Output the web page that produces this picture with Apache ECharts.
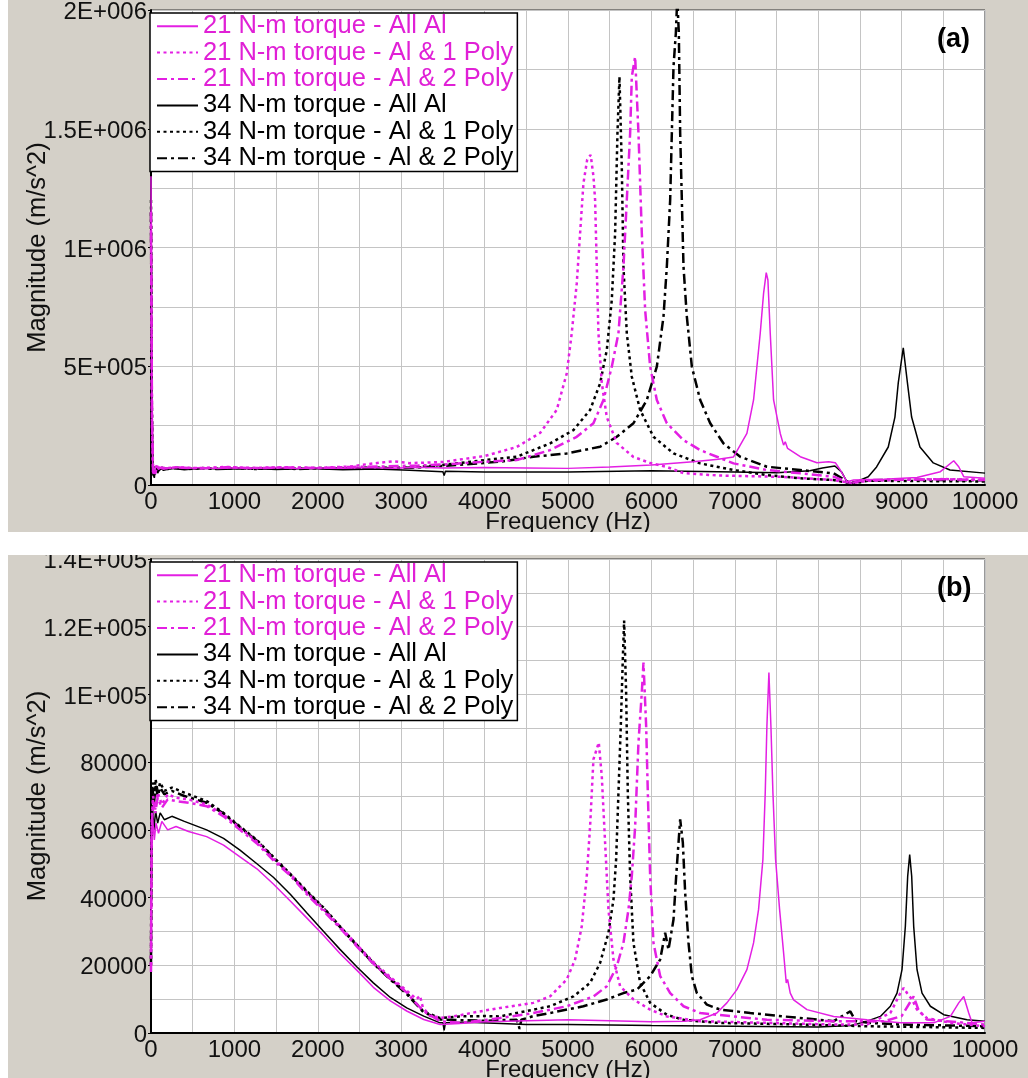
<!DOCTYPE html>
<html>
<head>
<meta charset="utf-8">
<script src="https://cdn.jsdelivr.net/npm/echarts@6/dist/echarts.min.js"></script>
<style>
html,body{margin:0;padding:0;background:#fff;}
#c{width:1028px;height:1078px;}
</style>
</head>
<body>
<div id="c"></div>
<script>
// ---------- tick labels ----------
const xTickLabels = ['0','1000','2000','3000','4000','5000','6000','7000','8000','9000','10000'];
const yTickLabelsA = ['0','5E+005','1E+006','1.5E+006','2E+006'];
const yTickLabelsB = ['0','20000','40000','60000','80000','1E+005','1.2E+005','1.4E+005'];
const seriesNames = ['21 N-m torque - All Al','21 N-m torque - Al & 1 Poly','21 N-m torque - Al & 2 Poly',
                     '34 N-m torque - All Al','34 N-m torque - Al & 1 Poly','34 N-m torque - Al & 2 Poly'];

// ---------- panel (a) data : [frequency Hz, magnitude m/s^2] ----------
const a21AllAl = [[0,1300000],[10,400000],[22,60000],[40,48000],[60,82000],[90,66000],[130,76000],[200,70000],[300,75000],[450,70000],[600,74000],[800,69000],[1000,73000],[1250,70000],[1500,74000],[1750,69000],[2000,73000],[2300,70000],[2600,74000],[2900,71000],[3200,75000],[3500,72000],[4000,74000],[4500,72000],[5000,70000],[5500,76000],[6000,84000],[6500,98000],[6800,108000],[6985,118000],[7145,217000],[7225,358000],[7305,639000],[7345,807000],[7377,894000],[7397,863000],[7425,639000],[7465,358000],[7545,217000],[7585,168000],[7605,182000],[7633,154000],[7785,119000],[7985,94000],[8125,98000],[8205,94000],[8265,63000],[8345,14000],[8425,21000],[8785,24000],[9185,32000],[9465,56000],[9625,102000],[9685,77000],[9745,35000],[10000,28000]];
const a21Poly1 = [[0,1100000],[12,250000],[25,55000],[45,40000],[70,78000],[150,70000],[300,75000],[600,71000],[900,76000],[1200,72000],[1600,75000],[2000,72000],[2400,78000],[2600,88000],[2900,100000],[3100,92000],[3500,97000],[4000,122000],[4385,160000],[4665,219000],[4865,316000],[4985,470000],[5045,640000],[5105,850000],[5145,1060000],[5185,1270000],[5230,1370000],[5272,1390000],[5305,1300000],[5325,1200000],[5345,918000],[5365,640000],[5405,430000],[5465,286000],[5585,177000],[5785,118000],[5985,93000],[6185,76000],[6385,50000],[6800,40000],[7585,34000],[8185,21000],[8400,8000],[8600,18000],[9000,22000],[9500,25000],[10000,22000]];
const a21Poly2 = [[0,1150000],[12,280000],[25,58000],[45,42000],[70,76000],[150,69000],[300,74000],[600,70000],[900,75000],[1200,71000],[1600,74000],[2000,71000],[2400,76000],[2800,78000],[3200,82000],[3600,88000],[4000,98000],[4385,105000],[4785,147000],[5105,203000],[5305,260000],[5425,358000],[5525,498000],[5605,639000],[5665,919000],[5705,1200000],[5745,1481000],[5765,1719000],[5805,1803000],[5845,1481000],[5885,1060000],[5925,737000],[5985,498000],[6065,358000],[6185,260000],[6385,189000],[6585,147000],[6785,119000],[6985,91000],[7385,63000],[7785,49000],[8185,35000],[8385,7000],[8550,21000],[9000,22000],[9500,24000],[10000,21000]];
const a34AllAl = [[0,1250000],[10,400000],[22,50000],[40,30000],[55,75000],[80,50000],[110,72000],[150,62000],[250,70000],[400,64000],[600,71000],[900,66000],[1200,70000],[1500,65000],[1900,69000],[2300,64000],[2700,67000],[3100,62000],[3500,56000],[3515,40000],[3530,58000],[4000,55000],[5000,55000],[6000,60000],[7000,55000],[7500,52000],[7900,60000],[8050,72000],[8200,80000],[8280,55000],[8350,10000],[8420,8000],[8500,20000],[8600,35000],[8700,76000],[8840,160000],[8920,286000],[8960,430000],[9020,577000],[9070,430000],[9120,286000],[9220,160000],[9380,93000],[9580,63000],[10000,50000]];
const a34Poly1 = [[0,1200000],[10,350000],[20,55000],[38,35000],[55,78000],[85,60000],[120,74000],[200,68000],[300,73000],[450,67000],[600,72000],[800,68000],[1000,72000],[1250,67000],[1500,71000],[1750,68000],[2000,72000],[2300,68000],[2600,73000],[2900,72000],[3200,76000],[3500,84000],[4000,105000],[4385,119000],[4785,175000],[5065,231000],[5265,316000],[5385,428000],[5465,568000],[5525,779000],[5565,1060000],[5593,1481000],[5617,1719000],[5645,1340000],[5665,919000],[5705,639000],[5765,456000],[5865,316000],[6025,203000],[6265,133000],[6585,91000],[6985,63000],[7385,42000],[7785,28000],[8185,21000],[8400,6000],[8600,18000],[9000,17000],[9500,16000],[10000,15000]];
const a34Poly2 = [[0,1150000],[10,300000],[21,52000],[40,38000],[58,76000],[90,62000],[130,73000],[200,67000],[300,72000],[450,68000],[600,71000],[800,67000],[1000,71000],[1250,68000],[1500,72000],[1750,67000],[2000,71000],[2300,69000],[2600,72000],[2900,71000],[3200,74000],[3500,80000],[4185,98000],[4585,119000],[4985,133000],[5385,161000],[5585,203000],[5785,260000],[5945,358000],[6065,498000],[6145,709000],[6185,919000],[6225,1200000],[6245,1481000],[6265,1761000],[6293,1902000],[6310,2050000],[6329,1902000],[6345,1481000],[6365,1200000],[6385,919000],[6425,709000],[6485,498000],[6585,358000],[6705,260000],[6865,175000],[7065,119000],[7385,77000],[7785,63000],[8185,49000],[8385,8000],[8550,20000],[9000,22000],[9500,21000],[10000,20000]];

// ---------- panel (b) data ----------
const b21AllAl = [[0,25000],[8,58000],[20,63000],[40,57000],[60,62000],[90,59000],[130,62500],[200,60000],[300,61000],[450,59500],[667,58000],[870,55500],[1067,52000],[1270,48500],[1467,44000],[1670,39000],[1867,34000],[2070,28800],[2266,23500],[2470,18500],[2666,13500],[2870,9500],[3066,6500],[3270,4000],[3466,2500],[3700,2800],[4000,3300],[4500,3600],[5000,3900],[5500,3600],[6000,3300],[6400,3500],[6585,3900],[6785,5900],[6905,8900],[7025,12800],[7145,18700],[7225,26600],[7285,36500],[7337,51300],[7365,71000],[7385,90700],[7409,106500],[7433,90700],[7457,71000],[7489,51300],[7537,36500],[7585,23700],[7617,14800],[7633,15800],[7665,11800],[7705,9800],[7865,6900],[8185,4900],[8585,3900],[8985,3000],[9385,3000],[9585,4900],[9685,8900],[9745,10800],[9805,5900],[9845,3000],[10000,3500]];
const b21Poly1 = [[0,20000],[8,62000],[25,70000],[50,66000],[80,71000],[130,67500],[200,70500],[300,69500],[450,69000],[667,67500],[870,64500],[1067,60500],[1270,56500],[1467,51500],[1670,47000],[1867,41500],[2070,36500],[2266,31500],[2470,26000],[2666,21000],[2870,16500],[3066,12500],[3185,10000],[3225,11000],[3260,7500],[3345,5000],[3500,4500],[3700,5200],[3900,6200],[4185,7400],[4585,8900],[4785,10800],[4985,15800],[5085,21700],[5165,31500],[5225,46300],[5265,61100],[5305,80800],[5369,85800],[5405,75900],[5445,56200],[5485,36500],[5545,21700],[5625,13800],[5785,9900],[5985,6900],[6185,4900],[6585,3500],[7385,3000],[8185,2500],[8585,2500],[8865,5900],[8985,11800],[9025,13300],[9065,11800],[9125,9900],[9185,6900],[9305,4400],[9585,3000],[10000,2000]];
const b21Poly2 = [[0,18000],[8,60000],[25,68500],[50,65000],[80,69500],[130,66500],[200,69000],[300,68500],[450,68000],[667,67000],[870,64000],[1067,60000],[1270,56000],[1467,51000],[1670,46500],[1867,41000],[2070,36000],[2266,31000],[2470,25500],[2666,20500],[2870,16000],[3066,12000],[3150,9500],[3266,6500],[3466,3500],[3700,3000],[4000,3800],[4185,4400],[4585,5900],[4985,7900],[5305,10800],[5465,13800],[5585,19700],[5665,26600],[5725,36500],[5765,46300],[5805,61000],[5845,85800],[5885,100600],[5905,109400],[5937,90700],[5957,71000],[5985,46300],[6025,26600],[6105,16800],[6225,11800],[6385,7900],[6585,5900],[6985,4900],[7385,3900],[8185,3500],[8800,3500],[9000,5000],[9100,9000],[9145,10800],[9200,7000],[9300,4000],[10000,2500]];
const b34AllAl = [[0,22000],[8,62000],[20,66000],[35,60000],[55,65500],[80,62000],[110,65000],[160,63000],[250,64000],[400,62500],[667,60000],[870,57500],[1067,54000],[1270,50000],[1467,46000],[1670,41000],[1867,35500],[2070,30000],[2266,24700],[2470,19500],[2666,14800],[2870,10500],[3066,7400],[3270,5000],[3466,3000],[3500,3000],[3515,800],[3530,3000],[3800,3200],[4200,2800],[4500,2500],[5000,2500],[6000,2200],[7000,2000],[8000,1800],[8400,2200],[8585,3500],[8745,4900],[8865,7900],[8945,11800],[9005,18700],[9045,31500],[9073,46300],[9097,52700],[9121,46300],[9145,31500],[9185,18700],[9245,11800],[9345,7900],[9505,5400],[9785,3900],[10000,3500]];
const b34Poly1 = [[0,20000],[8,66000],[20,74000],[35,69000],[55,75000],[80,71000],[110,74000],[160,71500],[250,72500],[400,71000],[667,68500],[870,65000],[1067,61000],[1270,57000],[1467,52000],[1670,47000],[1867,42000],[2070,37000],[2266,31500],[2470,26000],[2666,20700],[2870,16000],[3066,11800],[3266,6400],[3466,4400],[3700,4900],[4000,5000],[4185,4900],[4385,5900],[4785,7900],[5065,10800],[5265,14800],[5385,20700],[5485,29600],[5545,39400],[5577,51300],[5605,71000],[5633,90700],[5657,110400],[5673,121800],[5697,100600],[5717,71000],[5745,46300],[5785,26600],[5865,14800],[5985,8900],[6185,5400],[6385,3900],[6785,3000],[7785,2500],[8585,2000],[10000,1500]];
const b34Poly2 = [[0,21000],[8,64000],[20,72000],[35,67500],[55,73500],[80,70000],[110,72500],[160,70500],[250,71500],[400,70000],[667,68000],[870,64800],[1067,60800],[1270,56800],[1467,51800],[1670,46800],[1867,41800],[2070,36800],[2266,31300],[2470,25800],[2666,20500],[2870,15800],[3066,11500],[3266,6200],[3466,4000],[3700,3800],[4000,3600],[4185,3800],[4385,3900],[4420,1200],[4440,3900],[4585,5000],[4785,5900],[5185,7900],[5465,9900],[5665,11800],[5825,12800],[5985,16800],[6105,21700],[6165,29600],[6205,24600],[6265,33500],[6297,46300],[6325,56200],[6345,63100],[6377,56200],[6405,41400],[6445,26600],[6485,16800],[6545,11800],[6665,8400],[6825,6900],[7185,5900],[7585,4900],[8185,3500],[8385,6400],[8450,3500],[8600,3000],[9000,2500],[10000,2000]];

// ---------- styles ----------
const MAG = '#e31fe3';
const MAG_TXT = '#e020d6';
const BLK = '#000000';
const FONT = 'Liberation Sans, Arial, sans-serif';
const DOT = [3, 3.5];
const DASHDOT = [10, 4, 3, 4];

const styleDefs = [
  {color: MAG, type: 'solid', width: 1.5},
  {color: MAG, type: DOT, width: 2.5},
  {color: MAG, type: DASHDOT, width: 2.5},
  {color: BLK, type: 'solid', width: 1.5},
  {color: BLK, type: DOT, width: 2.5},
  {color: BLK, type: DASHDOT, width: 2.5}
];
const panelA = [a21AllAl, a21Poly1, a21Poly2, a34AllAl, a34Poly1, a34Poly2];
const panelB = [b21AllAl, b21Poly1, b21Poly2, b34AllAl, b34Poly1, b34Poly2];

function mkSeries(data, i, gi) {
  const s = styleDefs[i];
  return {
    name: seriesNames[i], type: 'line', xAxisIndex: gi, yAxisIndex: gi,
    data: data, showSymbol: false, symbol: 'none', animation: false,
    lineStyle: {color: s.color, type: s.type, width: s.width, cap: 'butt'},
    itemStyle: {color: s.color}, z: 2 + (i < 3 ? 1 : 0)
  };
}

const series = [];
panelA.forEach((d, i) => series.push(mkSeries(d, i, 0)));
panelB.forEach((d, i) => series.push(mkSeries(d, i, 1)));

function xAxis(gi) {
  return {
    type: 'value', gridIndex: gi, min: 0, max: 10000, interval: 1000,
    name: 'Frequency (Hz)', nameLocation: 'middle', nameGap: 25, nameMoveOverlap: false,
    nameTextStyle: {fontSize: 24, color: '#111', fontFamily: FONT, verticalAlign: 'top'},
    axisLine: {show: true, onZero: false, lineStyle: {color: '#000', width: 2}},
    axisTick: {show: false},
    axisLabel: {fontSize: 24, color: '#111', fontFamily: FONT, margin: 5,
      formatter: (v) => xTickLabels[Math.round(v / 1000)]},
    splitLine: {show: true, lineStyle: {color: '#c4c4c4', width: 1}},
    minorTick: {show: false, splitNumber: 2},
    minorSplitLine: {show: true, lineStyle: {color: '#c4c4c4', width: 1}}
  };
}
function yAxis(gi, max, interval, labels) {
  return {
    type: 'value', gridIndex: gi, min: 0, max: max, interval: interval,
    name: 'Magnitude (m/s^2)', nameLocation: 'middle', nameGap: 100, nameMoveOverlap: false,
    nameTextStyle: {fontSize: 25.5, color: '#111', fontFamily: FONT},
    axisLine: {show: true, lineStyle: {color: '#000', width: 2}},
    axisTick: {show: true, length: 3, lineStyle: {color: '#000'}},
    axisLabel: {fontSize: 24, color: '#111', fontFamily: FONT, margin: 4, verticalAlign: 'top', lineHeight: 5,
      formatter: (v) => labels[Math.round(v / interval)]},
    splitLine: {show: true, lineStyle: {color: '#c4c4c4', width: 1}},
    minorTick: {show: false, splitNumber: 2},
    minorSplitLine: {show: true, lineStyle: {color: '#c4c4c4', width: 1}}
  };
}

function legend(top) {
  return {
    orient: 'vertical', left: 150, top: top, itemWidth: 41, itemHeight: 14, itemGap: 0,
    padding: [0, 4, 0, 6], backgroundColor: '#fff', borderColor: '#000', borderWidth: 1.5,
    textStyle: {fontSize: 25.5, fontFamily: FONT, lineHeight: 26.4},
    itemStyle: {opacity: 0},
    selectedMode: false,
    data: seriesNames.map((n, i) => ({name: n, textStyle: {color: i < 3 ? MAG_TXT : '#000'}}))
  };
}

const chart = echarts.init(document.getElementById('c'), null, {renderer: 'canvas'});
chart.setOption({
  backgroundColor: '#d4d0c8',
  animation: false,
  grid: [
    {left: 151, top: 10, width: 834, height: 475, show: true, backgroundColor: '#fff', borderColor: '#333', borderWidth: 1, containLabel: false, outerBoundsMode: 'none'},
    {left: 151, top: 559, width: 834, height: 474, show: true, backgroundColor: '#fff', borderColor: '#333', borderWidth: 1, containLabel: false, outerBoundsMode: 'none'}
  ],
  title: [
    {text: '(a)', left: 937, top: 26, padding: 0, textStyle: {fontSize: 27, fontWeight: 'bold', color: '#000', fontFamily: FONT}},
    {text: '(b)', left: 937, top: 575, padding: 0, textStyle: {fontSize: 27, fontWeight: 'bold', color: '#000', fontFamily: FONT}}
  ],
  legend: [legend(13), legend(562)],
  xAxis: [xAxis(0), xAxis(1)],
  yAxis: [yAxis(0, 2000000, 500000, yTickLabelsA), yAxis(1, 140000, 20000, yTickLabelsB)],
  series: series,
  graphic: [
    {type: 'rect', z: 100, shape: {x: 0, y: 0, width: 8, height: 1078}, style: {fill: '#fff'}},
    {type: 'rect', z: 100, shape: {x: 0, y: 532, width: 1028, height: 23}, style: {fill: '#fff'}}
  ]
});
</script>
</body>
</html>
